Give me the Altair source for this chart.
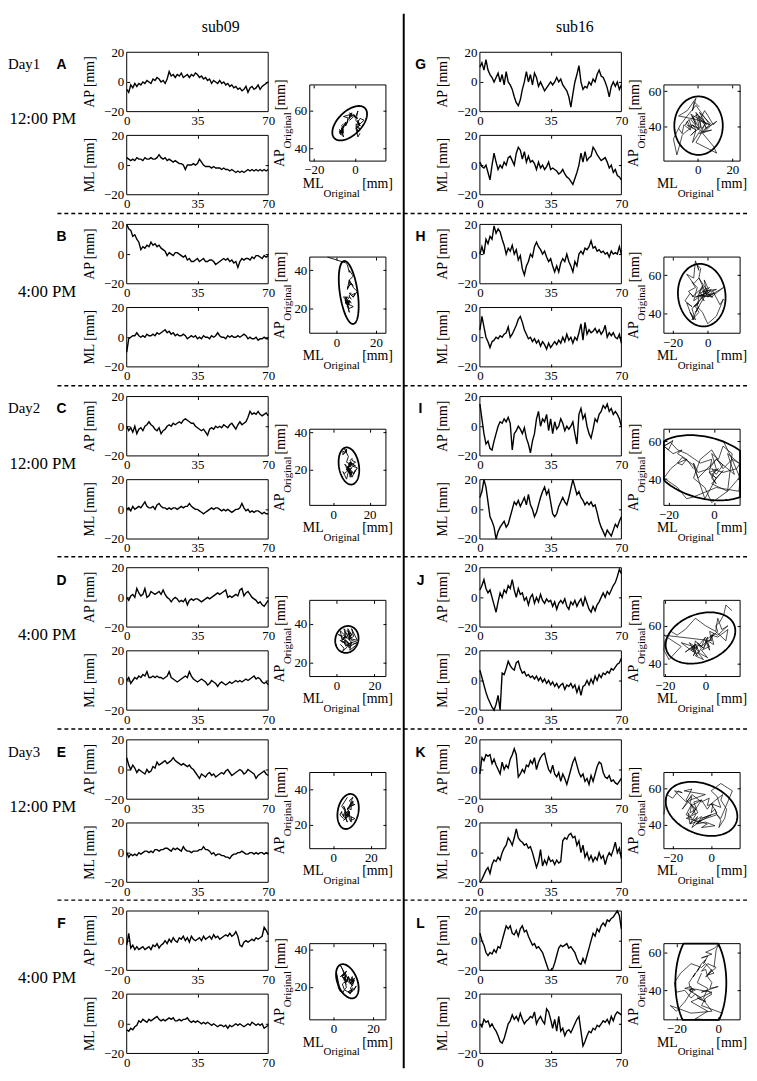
import altair as alt
import numpy as np
import pandas as pd

# ---------------- data ----------------
SUBJECTS = ["sub09", "sub16"]
DAYS = ["Day1", "Day2", "Day3"]
TIMES = ["12:00 PM", "4:00 PM"]
LETTERS = list("ABCDEFGHIJKL")
TS_X_DOMAIN = [0, 70]
TS_Y_DOMAIN = [-20, 20]
TS_X_TICKS = [0, 35, 70]
TS_Y_TICKS = [-20, 0, 20]

A_AP = [-5,-7,-2,-4,-1,-3,-1,-2,0,-1,1,0,-1,2,1,3,2,0,1,-1,2,7,4,5,3,5,4,6,3,4,5,3,5,4,6,5,3,4,2,3,1,2,-1,1,0,-1,1,-1,0,-2,-1,-3,-2,-4,-3,-5,-4,-6,-5,-3,-7,-4,-3,-5,-4,-2,-5,-3,-2,-1,0]
A_ML = [5,4,3,4,3,5,4,4,3,5,4,4,5,4,4,5,7,5,4,5,3,4,3,2,3,2,1,1,0,-3,0,0,0,1,0,1,4,2,0,-1,-1,-1,-2,-1,-2,-2,-2,-3,-2,-3,-3,-4,-3,-4,-5,-4,-5,-4,-5,-4,-3,-4,-3,-4,-3,-4,-3,-4,-3,-4,-3]
B_AP = [20,17,16,12,13,10,8,3,5,4,6,5,8,6,7,5,6,4,3,2,-1,1,0,-1,1,1,0,-1,-2,-1,-4,-3,-5,-5,-4,-3,-5,-4,-3,-5,-5,-4,-4,-5,-7,-6,-5,-4,-3,-4,-3,-5,-4,-6,-5,-9,-5,-3,-4,-3,-3,-4,-2,-3,-1,-1,-2,-3,-1,-2,-1]
B_ML = [-10,-1,0,1,1,3,1,0,1,0,2,1,1,2,1,3,2,3,4,5,3,4,2,3,1,2,1,1,2,1,-1,0,1,0,1,-1,0,-1,1,0,0,-1,1,0,1,3,1,0,0,-1,1,0,1,0,0,1,0,1,2,1,-1,0,-1,-1,0,-2,-1,-1,0,-1,-1]
C_AP = [0,-3,-1,-4,0,-5,-2,-1,-3,0,1,3,1,0,-2,-3,-1,-5,-3,-2,0,1,0,2,1,2,3,2,4,5,4,3,2,2,0,-1,-2,-3,-2,-4,-6,-2,-1,-2,0,-1,0,-1,1,0,-1,1,2,0,-2,1,3,1,2,3,6,10,8,9,8,10,8,7,8,9,7]
C_ML = [0,1,-1,2,0,1,2,1,3,5,2,1,1,2,0,3,4,2,1,1,0,1,0,1,1,0,1,2,1,2,2,4,2,1,0,0,-1,-2,-3,-2,-1,0,1,0,1,1,0,-1,0,-1,0,-1,-2,-1,0,0,1,4,1,-1,0,-2,-1,-2,-1,-1,-2,-3,-2,-3,-3]
D_AP = [0,-2,1,2,0,6,3,1,2,6,0,1,4,3,2,3,4,2,5,2,0,-1,-3,-1,0,-1,-3,-2,-3,-1,-5,-2,-1,-2,-1,-1,-2,-3,-2,-1,0,-1,0,1,2,3,2,3,4,5,0,1,0,1,2,1,5,6,1,3,4,2,0,-1,-2,-4,-3,-5,-6,-4,-2]
D_ML = [0,2,-2,0,2,1,3,2,4,3,6,2,2,3,2,3,2,2,1,2,3,6,2,1,0,-1,0,1,2,3,2,6,3,1,0,-1,0,1,0,-1,-3,-2,0,-1,-2,-4,-2,-1,-2,-3,-2,-1,-2,-1,0,-1,0,-1,0,1,0,1,2,3,1,2,1,-1,-2,-1,-3]
E_AP = [8,3,0,3,1,-2,0,-1,-2,-3,0,-2,-1,2,1,5,3,4,5,6,4,5,6,8,6,5,4,3,4,3,2,3,1,0,-2,-4,-6,-3,-4,-5,-3,-2,-4,-3,-5,-4,-3,-2,-3,-1,0,-2,-4,-3,-2,-1,0,-1,-3,-2,0,-1,-2,-3,-6,-4,-3,-2,-1,-3,-4]
E_ML = [0,-3,-1,-2,-1,-2,0,-1,0,1,1,0,1,0,2,2,1,2,2,3,3,2,1,3,2,3,2,1,4,2,1,1,0,1,1,1,2,2,4,2,2,1,-1,0,-2,-1,-1,-2,-2,-3,-3,-4,-2,-1,-1,0,0,1,0,-1,-1,0,0,-1,0,-1,0,0,-1,0,-1]
F_AP = [-3,5,-5,-3,-6,-4,-6,-5,-4,-6,-5,-4,-6,-3,-4,-2,-5,-3,-2,0,-2,1,-1,2,0,-1,2,1,3,0,2,-1,3,1,0,1,2,0,3,1,2,3,1,4,2,3,1,2,3,4,3,5,3,4,6,3,-3,-4,-1,0,-1,0,1,0,2,1,2,3,9,7,4]
F_ML = [-4,-5,-3,-4,-2,-1,2,1,3,2,1,3,2,3,4,5,3,2,3,2,3,4,3,4,2,2,3,2,3,3,4,2,1,2,1,2,1,0,1,0,1,0,-1,0,-1,-2,-1,-1,-2,-1,-3,-1,-2,-1,0,-1,0,-1,-2,-1,0,-1,1,0,-1,0,-1,0,-3,-2,-1]
G_AP = [10,13,8,15,8,5,3,0,3,6,0,5,-2,7,0,-2,-5,-10,-14,-16,-12,-5,0,7,0,5,-2,6,3,-3,0,-3,-6,-4,-2,0,-2,0,3,0,2,-2,-4,-6,-10,-17,-8,0,5,11,0,-5,-3,-4,0,-2,2,0,5,8,4,3,0,-4,-10,-3,0,-3,0,-5,-2]
G_ML = [2,-1,-2,0,-5,-10,0,8,2,-3,0,-2,2,0,5,6,3,0,8,12,10,4,9,2,6,2,3,1,-3,2,-2,0,-3,-1,2,-3,-2,-3,-4,-6,-5,-3,-6,-8,-9,-11,-13,-9,-5,0,8,2,9,3,5,6,12,10,7,5,3,4,5,2,-2,0,-5,-3,-7,-8,-10]
H_AP = [0,5,0,10,7,12,10,19,14,17,15,10,6,0,4,2,6,0,3,-4,-1,-10,-14,-8,-5,0,-2,5,8,5,3,0,2,-2,-5,-3,-8,-12,-8,-12,-6,-3,-5,0,-5,-8,-12,-5,-8,0,2,0,4,3,5,9,4,5,2,3,1,2,0,1,-2,2,0,1,0,5,0]
H_ML = [5,14,7,0,-3,-7,-3,-2,0,-1,1,0,2,3,7,0,2,5,8,12,14,10,5,2,-1,0,-3,-1,-4,-2,-6,-3,-5,-8,-4,-7,-5,-3,-5,-2,-4,0,-3,2,-2,0,-4,0,-2,3,9,-2,10,2,5,3,4,6,3,5,2,4,8,0,3,1,3,0,-1,2,-4]
I_AP = [15,5,-5,-12,-10,-15,-16,-10,-5,0,3,2,5,3,6,2,-16,-5,-3,0,-2,-5,-1,-8,-12,-18,-10,-5,5,10,0,5,3,8,-3,5,-5,3,-2,0,5,2,-3,0,-2,0,3,-5,-12,8,12,5,8,0,-5,-8,-2,5,3,8,10,14,12,15,10,12,8,10,8,5,0]
I_ML = [8,12,20,15,5,-5,-8,-12,-20,-15,-12,-10,-8,-12,-10,-5,0,5,3,6,2,5,8,3,10,3,0,-5,-2,3,8,12,15,10,13,5,-3,-5,-3,2,5,8,5,3,8,14,20,15,10,12,8,6,3,5,3,5,2,3,-2,-8,-12,-15,-18,-14,-16,-18,-14,-10,-12,-8,-5]
J_AP = [5,8,12,6,3,5,0,-5,-10,-3,3,0,5,3,8,6,12,5,0,6,2,3,-2,0,-5,0,2,-4,0,-3,2,-2,-4,-1,-3,-2,-6,-3,-8,-4,-2,-4,-1,-6,-8,-3,-5,-2,-6,-3,-1,-6,0,-4,-8,-10,-6,-9,-5,-3,0,3,0,4,2,5,8,10,14,19,16]
J_ML = [7,2,-3,-8,-12,-15,-18,-20,-16,-10,-20,5,4,8,13,10,8,7,12,13,8,5,6,3,4,2,3,1,3,0,2,-1,1,-2,0,-3,-1,-4,-2,-5,-3,-2,-6,-3,-4,-2,-5,-3,-8,-4,-10,-4,-3,0,-3,1,-2,3,0,4,2,5,4,6,5,8,7,9,11,12,15]
K_AP = [-3,8,6,10,9,10,4,7,3,0,-3,5,0,3,1,7,10,14,10,-5,-3,0,-2,3,2,6,4,8,0,5,8,10,11,5,0,-2,3,-3,-5,-2,-8,-3,-6,-10,-5,0,5,8,3,-2,-5,-3,-8,-6,-10,-4,-8,-3,2,5,4,-2,-5,-6,-4,-8,-7,-9,-10,-8,-6]
K_ML = [-20,-18,-15,-12,-10,-14,-8,-5,-6,-3,-5,0,3,5,10,8,5,10,16,10,8,7,5,6,3,4,0,-5,-10,-6,2,-9,-5,-8,-3,-6,-5,-8,-5,-7,-6,8,10,9,12,13,10,11,5,8,0,5,-3,0,-5,-2,-6,-3,-5,0,-4,-2,-8,-3,0,-2,2,7,0,3,-4]
L_AP = [5,0,-3,-8,-10,-8,-9,-6,-8,-4,-5,0,5,10,8,10,5,4,7,3,8,10,6,7,3,0,-3,-2,-5,-4,-6,-8,-12,-16,-20,-20,-19,-15,-10,-5,-3,-4,-3,-2,-5,-4,-6,-8,-12,-15,-16,-12,-15,-10,-5,0,5,3,8,6,10,12,10,14,13,15,16,18,20,17,8]
L_ML = [0,-2,3,1,2,-2,0,-3,-5,-8,-12,-13,-10,-5,0,2,6,3,5,2,7,3,0,2,3,5,4,8,0,3,5,2,0,10,8,3,-3,3,-5,5,-5,-3,-8,-5,-4,-6,-3,0,3,5,-5,-15,-12,-8,-5,-6,-3,-4,-1,-2,0,2,1,3,0,5,2,6,8,7,6]

AP_SERIES = [A_AP, B_AP, C_AP, D_AP, E_AP, F_AP, G_AP, H_AP, I_AP, J_AP, K_AP, L_AP]
ML_SERIES = [A_ML, B_ML, C_ML, D_ML, E_ML, F_ML, G_ML, H_ML, I_ML, J_ML, K_ML, L_ML]

# scatter (original coordinates): axis domains, tick labels, offsets of the cloud
SC_X_DOMAIN = [[-22, 15], [-13.5, 25], [-13, 29], [-14, 26], [-12.5, 28], [-12, 26.5],
               [-19.5, 24.5], [-25, 18.5], [-22, 11.5], [-20.5, 17], [-24.5, 15], [-26, 10.5]]
SC_Y_DOMAIN = [[33, 74], [7, 47], [1, 41.6], [13, 52], [6.5, 49.5], [2.5, 43],
               [20.5, 63.5], [29.5, 69.5], [26, 66.5], [33, 73.5], [27, 68.5], [24.5, 64.5]]
SC_X_TICKS = [[-20, 0], [0, 20], [0, 20], [0, 20], [0, 20], [0, 20],
              [0, 20], [-20, 0], [-20, 0], [-20, 0], [-20, 0], [-20, 0]]
SC_Y_TICKS = [[40, 60], [20, 40], [20, 40], [20, 40], [20, 40], [20, 40],
              [40, 60], [40, 60], [40, 60], [40, 60], [40, 60], [40, 60]]
ML_MEAN = [-2.6, 5.5, 8.3, 5.0, 7.5, 6.5, -1.0, -5.0, -4.0, -2.0, -5.0, -8.0]
AP_MEAN = [53.0, 27.0, 21.0, 31.5, 27.5, 22.5, 41.0, 48.5, 45.5, 52.0, 48.5, 44.0]
# confidence ellipses: centre x, centre y, semi-major, semi-minor, angle (deg)
ELL_CX = [-2.6, 6.2, 8.6, 5.5, 7.9, 7.0, 0.5, -3.4, -4.0, -2.5, -5.0, -8.3]
ELL_CY = [53.4, 28.4, 22.0, 32.0, 27.5, 23.0, 40.5, 49.5, 46.0, 53.5, 48.7, 44.0]
ELL_A = [11, 16.7, 10, 7, 10, 9.5, 16.5, 16.5, 24, 18, 19.5, 28]
ELL_B = [6, 4.5, 5.5, 6, 5.5, 5, 14, 13.5, 16, 12.5, 13.5, 12.2]
ELL_ANG = [50, 98, 100, 70, 80, 110, 90, 100, -22, 25, -25, 90]

# ---------------- layout (pixels) ----------------
W, H = 749, 1066
COL_TS = [(120, 263), (477, 620)]
COL_SC = [(305, 382), (663, 740)]
ROW_TOP = [39, 213, 387, 560, 734, 907]
DIV_X = 400
SERIF = "Liberation Serif"
SANS = "Liberation Sans"

ONE = alt.Data(values=[{}])
layers = []


def text(s, x, y, size, font=SERIF, weight="normal", align="center", angle=0):
    kw = dict(font=font, fontSize=size, fontWeight=weight, align=align,
              baseline="middle", color="black")
    if angle:
        kw["angle"] = angle
    return alt.Chart(ONE).mark_text(**kw).encode(
        x=alt.value(x), y=alt.value(y), text=alt.value(s))


def axis(orient, off, values, labels=True, ticks=False):
    kw = dict(orient=orient, offset=off, values=values, grid=False, domain=False,
              title=None, labelFlush=False, labelOverlap=False, format="d",
              labels=labels, ticks=ticks, labelFont=SERIF, labelFontSize=13,
              labelColor="black", labelPadding=3)
    if ticks:
        kw.update(tickSize=3, tickColor="black", tickWidth=1)
    return alt.Axis(**kw)


def frame(xs, ys, xdom, ydom, xticks, yticks, x0, x1, y0, y1):
    box = pd.DataFrame({"xa": [xdom[0]], "xb": [xdom[1]], "ya": [ydom[0]], "yb": [ydom[1]]})
    f1 = alt.Chart(box).mark_rect(filled=False, stroke="black", strokeWidth=1).encode(
        x=alt.X("xa:Q", scale=xs, axis=axis("top", -y1, xticks, labels=False, ticks=True)),
        x2="xb", y=alt.Y("ya:Q", scale=ys, axis=axis("right", x0 - W, yticks, labels=False, ticks=True)),
        y2="yb")
    f2 = alt.Chart(box).mark_rect(opacity=0).encode(
        x=alt.X("xa:Q", scale=xs, axis=axis("bottom", y0 - H, xticks, labels=False, ticks=True)),
        x2="xb", y=alt.Y("ya:Q", scale=ys, axis=axis("left", -x1, yticks, labels=False, ticks=True)),
        y2="yb")
    return [f1, f2]


def time_series(values, x0, x1, y0):
    y1 = y0 + 60
    df = pd.DataFrame({"t": np.linspace(0, 70, len(values)), "v": values})
    xs = alt.Scale(domain=TS_X_DOMAIN, range=[x0, x1], nice=False, zero=False, clamp=True)
    ys = alt.Scale(domain=TS_Y_DOMAIN, range=[y1, y0], nice=False, zero=False, clamp=True)
    line = alt.Chart(df).mark_line(color="black", strokeWidth=1.4).encode(
        x=alt.X("t:Q", scale=xs, axis=axis("bottom", y1 - H, TS_X_TICKS)),
        y=alt.Y("v:Q", scale=ys, axis=axis("left", -x0, TS_Y_TICKS)))
    return [line] + frame(xs, ys, TS_X_DOMAIN, TS_Y_DOMAIN, [35], [0], x0, x1, y0, y1)


def scatter(i, x0, x1, y0):
    y1 = y0 + 77
    n = min(len(AP_SERIES[i]), len(ML_SERIES[i]))
    df = pd.DataFrame({"k": np.arange(n),
                       "x": np.array(ML_SERIES[i][:n], float) + ML_MEAN[i],
                       "y": np.array(AP_SERIES[i][:n], float) + AP_MEAN[i]})
    phi = np.linspace(0, 2 * np.pi, 145)
    th = np.radians(ELL_ANG[i])
    a, b = ELL_A[i], ELL_B[i]
    ell = pd.DataFrame({"k": np.arange(len(phi)),
                        "x": ELL_CX[i] + a * np.cos(phi) * np.cos(th) - b * np.sin(phi) * np.sin(th),
                        "y": ELL_CY[i] + a * np.cos(phi) * np.sin(th) + b * np.sin(phi) * np.cos(th)})
    xs = alt.Scale(domain=SC_X_DOMAIN[i], range=[x0, x1], nice=False, zero=False, clamp=True)
    ys = alt.Scale(domain=SC_Y_DOMAIN[i], range=[y1, y0], nice=False, zero=False, clamp=True)
    traj = alt.Chart(df).mark_line(color="black", strokeWidth=0.9 if i < 6 else 0.7).encode(
        x=alt.X("x:Q", scale=xs, axis=axis("bottom", y1 - H, SC_X_TICKS[i])),
        y=alt.Y("y:Q", scale=ys, axis=axis("left", -x0, SC_Y_TICKS[i])),
        order="k:Q")
    el = alt.Chart(ell).mark_line(color="black", strokeWidth=1.8).encode(
        x=alt.X("x:Q", scale=xs, axis=None), y=alt.Y("y:Q", scale=ys, axis=None), order="k:Q")
    return [traj, el] + frame(xs, ys, SC_X_DOMAIN[i], SC_Y_DOMAIN[i],
                              SC_X_TICKS[i], SC_Y_TICKS[i], x0, x1, y0, y1)


for i in range(12):
    col, row = divmod(i, 6)
    o = ROW_TOP[row]
    tx0, tx1 = COL_TS[col]
    sx0, sx1 = COL_SC[col]
    layers += time_series(AP_SERIES[i], tx0, tx1, o)
    layers += time_series(ML_SERIES[i], tx0, tx1, o + 84)
    layers += scatter(i, sx0, sx1, o + 33)
    # labels
    layers.append(text(LETTERS[i], tx0 - 66 if col == 0 else tx0 - 60, o + 13, 14, font=SANS, weight="bold"))
    layers.append(text("AP [mm]", tx0 - 37, o + 30, 14, angle=270))
    layers.append(text("ML [mm]", tx0 - 37, o + 114, 14, angle=270))
    layers.append(text("AP", sx0 - 30, o + 107, 14, angle=270))
    layers.append(text("Original", sx0 - 22, o + 79, 11, angle=270))
    layers.append(text("[mm]", sx0 - 29, o + 43, 14, angle=270))
    layers.append(text("ML", sx0 - 7, o + 133, 14, align="left"))
    layers.append(text("Original", sx0 + 14, o + 143, 11, align="left"))
    layers.append(text("[mm]", sx0 + 53, o + 133, 14, align="left"))

for r in range(6):
    o = ROW_TOP[r]
    if r % 2 == 0:
        layers.append(text(DAYS[r // 2], 0, o + 12, 15, align="left"))
    layers.append(text(TIMES[r % 2], 69, o + 68, 17, align="right"))
    if r > 0:
        layers.append(alt.Chart(ONE).mark_rule(color="black", strokeWidth=1.5, strokeDash=[4, 3]).encode(
            x=alt.value(50), x2=alt.value(W), y=alt.value(o - 11)))

layers.append(text(SUBJECTS[0], 215, 13, 16))
layers.append(text(SUBJECTS[1], 573, 13, 16))
layers.append(alt.Chart(ONE).mark_rule(color="black", strokeWidth=2).encode(
    x=alt.value(DIV_X), y=alt.value(0), y2=alt.value(H)))

chart = alt.layer(*layers).resolve_scale(x="independent", y="independent").resolve_axis(
    x="independent", y="independent").properties(
    width=W, height=H, padding=0, autosize=alt.AutoSizeParams(type="none")
).configure_view(stroke=None)

chart.save("out.html", embed_options={"renderer": "svg", "actions": False})
